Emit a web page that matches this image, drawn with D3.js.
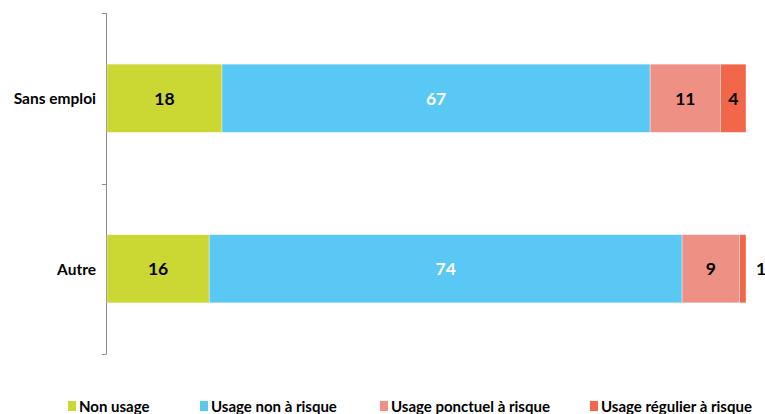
<!DOCTYPE html>
<html>
<head>
<meta charset="utf-8">
<script src="https://cdn.jsdelivr.net/npm/d3@7"></script>
<style>
  html, body { margin: 0; padding: 0; background: #fff; }
  svg { display: block; font-family: Lato, "Open Sans", sans-serif; }
</style>
</head>
<body>
<svg id="chart" width="765" height="414"></svg>
<script>
// Groups (bars, top to bottom)
const categories = ["Sans emploi", "Autre"];
// Series names and the share of each group (%)
const seriesNames = ["Non usage", "Usage non à risque", "Usage ponctuel à risque", "Usage régulier à risque"];
const nonUsage = [18, 16];
const usageNonRisque = [67, 74];
const usagePonctuel = [11, 9];
const usageRegulier = [4, 1];
const seriesColors = ["#CBD733", "#5AC8F4", "#EE9084", "#F26649"];
const labelColors = ["#000", "#fff", "#000", "#000"];

const rows = categories.map((c, i) => ({
  cat: c,
  "Non usage": nonUsage[i],
  "Usage non à risque": usageNonRisque[i],
  "Usage ponctuel à risque": usagePonctuel[i],
  "Usage régulier à risque": usageRegulier[i]
}));

const svg = d3.select("#chart");
const plotLeft = 106, plotRight = 746, plotTop = 13, plotBottom = 354;

const x = d3.scaleLinear().domain([0, 100]).range([plotLeft + 1, plotRight]);
const y = d3.scaleBand().domain(categories).range([plotTop, plotBottom]).paddingInner(0.6).paddingOuter(0.3);

const stack = d3.stack().keys(seriesNames)(rows);

// Category axis with ticks between groups
const axis = svg.append("g");
axis.append("line")
  .attr("x1", plotLeft + 0.5).attr("x2", plotLeft + 0.5)
  .attr("y1", plotTop).attr("y2", plotBottom)
  .attr("stroke", "#8c8c8c").attr("stroke-width", 1);
const step = (plotBottom - plotTop) / categories.length;
d3.range(categories.length + 1).forEach(k => {
  const ty = Math.round(plotTop + k * step) + 0.5;
  axis.append("line")
    .attr("x1", plotLeft - 4).attr("x2", plotLeft + 0.5)
    .attr("y1", ty).attr("y2", ty)
    .attr("stroke", "#8c8c8c").attr("stroke-width", 1);
});
axis.selectAll("text.cat").data(categories).enter().append("text")
  .attr("class", "cat")
  .attr("x", plotLeft - 10)
  .attr("y", d => y(d) + y.bandwidth() / 2)
  .attr("text-anchor", "end")
  .attr("dominant-baseline", "central")
  .attr("font-size", 15.5)
  .attr("font-weight", "bold")
  .attr("fill", "#000")
  .text(d => d);

// Stacked bar segments
const layers = svg.append("g").selectAll("g").data(stack).enter().append("g")
  .attr("fill", (d, i) => seriesColors[i]);
layers.selectAll("rect").data(d => d).enter().append("rect")
  .attr("x", d => x(d[0]))
  .attr("y", d => y(d.data.cat))
  .attr("width", d => x(d[1]) - x(d[0]))
  .attr("height", y.bandwidth())
  .attr("stroke", "rgba(255,255,255,0.5)")
  .attr("stroke-width", 0.75);

// Value labels
stack.forEach((layer, si) => {
  layer.forEach(d => {
    const v = d[1] - d[0];
    const w = x(d[1]) - x(d[0]);
    const inside = w > 10;
    svg.append("text")
      .attr("x", inside ? (x(d[0]) + x(d[1])) / 2 : x(d[1]) + 15)
      .attr("y", y(d.data.cat) + y.bandwidth() / 2)
      .attr("text-anchor", "middle")
      .attr("dominant-baseline", "central")
      .attr("font-size", 17.5)
      .attr("font-weight", "bold")
      .attr("fill", inside ? labelColors[si] : "#000")
      .text(v);
  });
});

// Legend
const legendX = [68, 200, 380, 590];
const legend = svg.append("g");
seriesNames.forEach((name, i) => {
  legend.append("rect")
    .attr("x", legendX[i]).attr("y", 401)
    .attr("width", 8).attr("height", 10)
    .attr("fill", seriesColors[i]);
  legend.append("text")
    .attr("x", legendX[i] + 11).attr("y", 406)
    .attr("dominant-baseline", "central")
    .attr("font-size", 15)
    .attr("font-weight", "bold")
    .attr("fill", "#000")
    .text(name);
});
</script>
</body>
</html>
